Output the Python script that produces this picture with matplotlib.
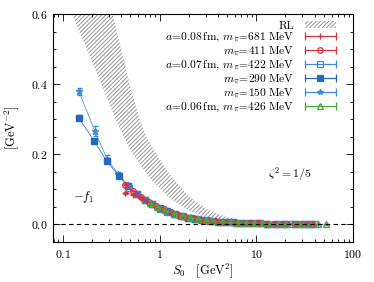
import matplotlib
matplotlib.use("Agg")
import matplotlib.pyplot as plt
from matplotlib.lines import Line2D
from matplotlib.patches import Patch
from matplotlib.legend_handler import HandlerLine2D
from matplotlib.ticker import FixedLocator, FuncFormatter, MultipleLocator, LogLocator

plt.rcParams['font.family'] = 'serif'
plt.rcParams['font.serif'] = ['cmr10', 'DejaVu Serif']
plt.rcParams['mathtext.fontset'] = 'cm'
plt.rcParams['axes.formatter.use_mathtext'] = True
plt.rcParams['hatch.linewidth'] = 0.7

# ---- RL band (outer / inner edge) ----
rl_outer_S = [0.28, 0.327, 0.49, 0.62, 0.73, 0.93, 1.3, 2.0, 3.0, 5.0, 8.0, 12.0]
rl_outer_y = [0.70, 0.60, 0.40, 0.30, 0.25, 0.20, 0.14, 0.080, 0.045, 0.020, 0.008, 0.003]
rl_inner_S = [0.10, 0.124, 0.25, 0.35, 0.50, 0.80, 1.27, 2.0, 3.3, 5.3, 8.0, 12.0]
rl_inner_y = [0.70, 0.60, 0.40, 0.30, 0.21, 0.13, 0.075, 0.040, 0.016, 0.006, 0.002, 0.001]

# ---- lattice data ----
S_681 = [0.44, 0.53, 0.64, 0.77, 0.92, 1.1, 1.3, 1.55, 1.85, 2.2, 2.6, 3.1, 3.7, 4.4, 5.2, 6.2, 7.4, 8.8, 10.5, 12.5, 15, 18, 21, 25, 30, 35, 38]
f_681 = [0.090, 0.085, 0.075, 0.062, 0.051, 0.041, 0.034, 0.028, 0.022, 0.018, 0.014, 0.011, 0.0092, 0.0077, 0.0065, 0.0055, 0.0046, 0.0039, 0.0032, 0.0027, 0.0022, 0.0018, 0.0015, 0.0012, 0.0010, 0.0008, 0.0007]

S_411 = [0.44, 0.53, 0.64, 0.77, 0.92, 1.1, 1.3, 1.55, 1.85, 2.2, 2.6, 3.1, 3.7, 4.4, 5.2, 6.2, 7.4, 8.8, 10.5, 12.5, 15, 18, 21, 25, 30, 35, 38]
f_411 = [0.113, 0.095, 0.078, 0.064, 0.053, 0.043, 0.035, 0.028, 0.022, 0.018, 0.014, 0.011, 0.0092, 0.0077, 0.0065, 0.0055, 0.0046, 0.0039, 0.0032, 0.0027, 0.0022, 0.0018, 0.0015, 0.0012, 0.0010, 0.0008, 0.0007]

S_422 = [0.48, 0.58, 0.70, 0.84, 1.0, 1.2, 1.45, 1.75, 2.1, 2.5, 3.0, 3.6, 4.3, 5.2, 6.2, 7.5, 9, 11, 13, 16, 19, 23, 28, 34, 40]
f_422 = [0.105, 0.087, 0.070, 0.057, 0.045, 0.036, 0.029, 0.023, 0.018, 0.0145, 0.0115, 0.0093, 0.0077, 0.0064, 0.0054, 0.0044, 0.0037, 0.0030, 0.0025, 0.0020, 0.0017, 0.0014, 0.0011, 0.0009, 0.0007]

S_290 = [0.146, 0.21, 0.284, 0.378, 0.467, 0.58, 0.70, 0.83, 1.0, 1.18, 1.4, 1.65, 1.95, 2.3, 2.75, 3.3, 4, 4.8, 5.8, 7, 8.5, 10.5, 13, 16, 20, 25, 31, 37]
f_290 = [0.304, 0.239, 0.180, 0.139, 0.110, 0.087, 0.070, 0.058, 0.046, 0.037, 0.030, 0.024, 0.019, 0.0155, 0.0125, 0.010, 0.0083, 0.0069, 0.0058, 0.0048, 0.0040, 0.0033, 0.0027, 0.0022, 0.0017, 0.0014, 0.0011, 0.0009]
e_290 = [0.007, 0.006, 0.005, 0.004, 0.004, 0.003, 0.003, 0.002, 0.002, 0.002, 0.002, 0.001, 0.001, 0.001, 0.001, 0.001, 0.001, 0.001, 0.001, 0.001, 0.001, 0.001, 0.001, 0.001, 0.001, 0.001, 0.001, 0.001]

S_150 = [0.146, 0.214, 0.285, 0.375, 0.47, 0.58, 0.70, 0.83, 1.0, 1.2, 1.45, 1.75, 2.1, 2.5, 3.0, 3.6, 4.3, 5.2, 6.2, 7.5, 9, 11, 13, 16]
f_150 = [0.380, 0.266, 0.188, 0.143, 0.112, 0.088, 0.071, 0.058, 0.046, 0.037, 0.029, 0.023, 0.018, 0.0145, 0.0115, 0.0093, 0.0077, 0.0064, 0.0054, 0.0044, 0.0037, 0.0030, 0.0025, 0.0020]
e_150 = [0.010, 0.015, 0.009, 0.007, 0.005, 0.004, 0.003, 0.003, 0.002, 0.002, 0.002, 0.002, 0.001, 0.001, 0.001, 0.001, 0.001, 0.001, 0.001, 0.001, 0.001, 0.001, 0.001, 0.001]

S_426 = [0.80, 0.95, 1.15, 1.4, 1.7, 2.05, 2.5, 3.0, 3.6, 4.4, 5.3, 6.4, 7.8, 9.4, 11.5, 14, 17, 20.5, 25, 30, 36, 43, 52]
f_426 = [0.060, 0.050, 0.040, 0.031, 0.025, 0.020, 0.015, 0.012, 0.0095, 0.0078, 0.0065, 0.0054, 0.0045, 0.0037, 0.0030, 0.0025, 0.0020, 0.0017, 0.0014, 0.0011, 0.0009, 0.0008, 0.0006]

labels = [r"$a\!=\!0.08\,\mathrm{fm},\,m_\pi\!=\!681\;\mathrm{MeV}$",
          r"$m_\pi\!=\!411\;\mathrm{MeV}$",
          r"$a\!=\!0.07\,\mathrm{fm},\,m_\pi\!=\!422\;\mathrm{MeV}$",
          r"$m_\pi\!=\!290\;\mathrm{MeV}$",
          r"$m_\pi\!=\!150\;\mathrm{MeV}$",
          r"$a\!=\!0.06\,\mathrm{fm},\,m_\pi\!=\!426\;\mathrm{MeV}$"]

RED = '#d8323c'
BLUE = '#2468c4'
LBLUE = '#3d8bdb'
GREEN = '#4aa83f'
HATCHC = '#959595'

series = [
    (S_150, f_150, e_150, LBLUE, '*', LBLUE, 4.5, 3),
    (S_290, f_290, e_290, BLUE, 's', BLUE, 4.0, 4),
    (S_422, f_422, 0.001, LBLUE, 's', 'none', 4.0, 5),
    (S_411, f_411, 0.001, RED, 'o', 'none', 4.0, 6),
    (S_681, f_681, 0.002, RED, '+', RED, 4.5, 7),
    (S_426, f_426, 0.001, GREEN, '^', 'none', 4.0, 8),
]

fig = plt.figure(figsize=(3.74, 2.82), dpi=100)
ax = fig.add_axes([53/374, 1-242/282, 300/374, 228/282])

band_x = rl_outer_S + rl_inner_S[::-1]
band_y = rl_outer_y + rl_inner_y[::-1]
ax.fill(band_x, band_y, facecolor='none', edgecolor=HATCHC, hatch='////////', lw=0, zorder=1)

for S, f, e, c, m, mfc, ms, z in series:
    ax.errorbar(S, f, yerr=e, fmt=m, ls='-', lw=0.5, color=c, mfc=mfc, mec=c,
                ms=ms, mew=1.0, elinewidth=0.6, capsize=1.8, capthick=0.6, zorder=z)

ax.axhline(0.0, color='k', lw=0.8, ls=(0, (4, 3)), zorder=9)

ax.set_xscale('log')
ax.set_xlim(0.079, 100)
ax.set_ylim(-0.05, 0.6)

ax.xaxis.set_major_locator(FixedLocator([0.1, 1, 10, 100]))
ax.xaxis.set_major_formatter(FuncFormatter(lambda v, p: {0.1: "$0.1$", 1: "$1$", 10: "$10$", 100: "$100$"}.get(round(v, 3), "")))
ax.xaxis.set_minor_locator(LogLocator(base=10, subs=range(2, 10), numticks=20))
ax.xaxis.set_minor_formatter(FuncFormatter(lambda v, p: ""))
ax.yaxis.set_major_locator(FixedLocator([0.0, 0.2, 0.4, 0.6]))
ax.yaxis.set_major_formatter(FuncFormatter(lambda v, p: "$%.1f$" % v))
ax.yaxis.set_minor_locator(MultipleLocator(0.05))

ax.tick_params(which='both', direction='in', top=True, right=True, labelsize=8.5, width=0.6)
ax.tick_params(which='major', length=5, pad=4)
ax.tick_params(which='minor', length=2.5)
for sp in ax.spines.values():
    sp.set_linewidth(0.8)

ax.set_xlabel(r"$S_0\quad[\mathrm{GeV}^2]$", fontsize=9, labelpad=1)
ax.set_ylabel(r"$[\mathrm{GeV}^{-2}]$", fontsize=9, labelpad=7)

ax.text(22, 0.145, r"$\zeta^2=1/5$", fontsize=8.5, ha='center', va='center')
ax.text(0.127, 0.077, r"$-f_1$", fontsize=9, ha='left', va='center')

# legend
handles = [Patch(facecolor='none', edgecolor=HATCHC, hatch='////////', lw=0)]
hmap = {}
leg_styles = [(RED, '+', RED), (RED, 'o', 'none'), (LBLUE, 's', 'none'),
              (BLUE, 's', BLUE), (LBLUE, '*', LBLUE), (GREEN, '^', 'none')]
for c, m, mfc in leg_styles:
    caps = Line2D([], [], color=c, lw=0.9, marker='|', ms=6, mew=0.9)
    mk = Line2D([], [], ls='none', color=c, marker=m, mfc=mfc, mec=c, ms=4, mew=0.9)
    hmap[caps] = HandlerLine2D(numpoints=2, marker_pad=0)
    hmap[mk] = HandlerLine2D(numpoints=1)
    handles.append((caps, mk))
leg = ax.legend(handles, ["RL"] + labels, loc='upper right', bbox_to_anchor=(0.958, 0.99),
                frameon=False, markerfirst=False, fontsize=8.3, handlelength=2.7,
                handletextpad=0.9, labelspacing=0.02, borderaxespad=0.2, borderpad=0.2,
                handler_map=hmap, handleheight=0.6)
for t in leg.get_texts():
    t.set_ha('right')

fig.savefig('out.png', dpi=100)
